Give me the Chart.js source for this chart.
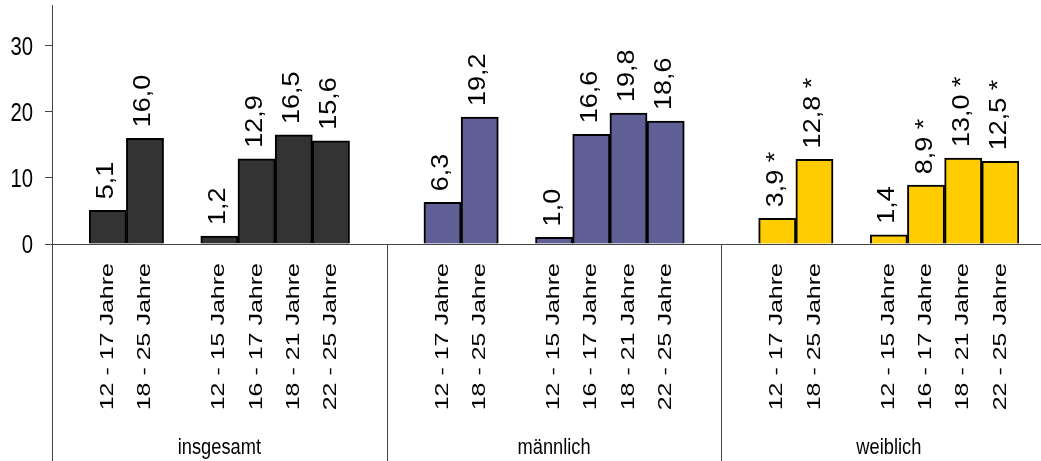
<!DOCTYPE html>
<html>
<head>
<meta charset="utf-8">
<script src="https://cdn.jsdelivr.net/npm/chart.js@4.4.1/dist/chart.umd.min.js"></script>
<style>
  html, body { margin: 0; padding: 0; background: #fff; }
  #wrap { width: 1041px; height: 461px; position: relative; }
</style>
</head>
<body>
<div id="wrap"><canvas id="chart"></canvas></div>
<script>
// data
const groupNames = ['insgesamt', 'männlich', 'weiblich'];
const ageLabels = ['12 - 17 Jahre', '18 - 25 Jahre', '', '12 - 15 Jahre', '16 - 17 Jahre', '18 - 21 Jahre', '22 - 25 Jahre'];
const insgesamt = [5.1, 16.0, null, 1.2, 12.9, 16.5, 15.6];
const maennlich = [6.3, 19.2, null, 1.0, 16.6, 19.8, 18.6];
const weiblich = [3.9, 12.8, null, 1.4, 8.9, 13.0, 12.5];
const weiblichStar = [true, true, false, false, true, true, true];
const groupColors = ['#333333', '#5f5f95', '#ffcc00'];
const yTicks = [0, 10, 20, 30];

// build slot list: one empty slot, then groups divided by two empty slots
const groupValues = [insgesamt, maennlich, weiblich];
const labels = [''], values = [null], colors = ['#fff'], stars = [false], groupOf = [-1];
groupValues.forEach((vals, g) => {
  if (g > 0) {
    for (let k = 0; k < 2; k++) { labels.push(''); values.push(null); colors.push('#fff'); stars.push(false); groupOf.push(-1); }
  }
  vals.forEach((v, i) => {
    labels.push(ageLabels[i]);
    values.push(v);
    colors.push(groupColors[g]);
    stars.push(g === 2 ? weiblichStar[i] : false);
    groupOf.push(g);
  });
});

const lineColor = '#444';
const textColor = '#000';

const decorations = {
  id: 'decorations',
  afterDraw(chart) {
    const ctx = chart.ctx;
    const xs = chart.scales.x, ys = chart.scales.y;
    const area = chart.chartArea;
    const y0 = ys.getPixelForValue(0);
    const H = chart.height, W = chart.width;
    ctx.save();
    ctx.strokeStyle = lineColor;
    ctx.lineWidth = 1;
    ctx.beginPath();
    // y axis line down to the bottom
    ctx.moveTo(Math.round(area.left) + 0.5, area.top - 1);
    ctx.lineTo(Math.round(area.left) + 0.5, H);
    // baseline
    ctx.moveTo(area.left - 7, Math.round(y0) + 0.5);
    ctx.lineTo(W, Math.round(y0) + 0.5);
    // separators between groups (middle of the two empty slots)
    for (let i = 2; i < labels.length; i++) {
      if (groupOf[i] === -1 && groupOf[i - 1] === -1) {
        const sx = Math.round((xs.getPixelForValue(i - 1) + xs.getPixelForValue(i)) / 2);
        ctx.moveTo(sx + 0.5, y0);
        ctx.lineTo(sx + 0.5, H);
      }
    }
    ctx.stroke();

    ctx.fillStyle = textColor;
    // y tick labels (condensed)
    ctx.font = '26px "Liberation Sans", Arial, sans-serif';
    ctx.textAlign = 'right';
    ctx.textBaseline = 'alphabetic';
    yTicks.forEach(v => {
      const ty = ys.getPixelForValue(v);
      ctx.save();
      ctx.translate(area.left - 19, ty + 9);
      ctx.scale(0.78, 1);
      ctx.fillText(String(v), 0, 0);
      ctx.restore();
    });

    // value labels
    ctx.font = '27px "Liberation Sans", Arial, sans-serif';
    values.forEach((v, i) => {
      if (v === null) return;
      const x = xs.getPixelForValue(i) - 1;
      const y = ys.getPixelForValue(v) - 11;
      const txt = v.toFixed(1).replace('.', ',') + (stars[i] ? ' *' : '');
      ctx.save();
      ctx.translate(x, y);
      ctx.rotate(-Math.PI / 2);
      ctx.scale(1, 0.87);
      ctx.textAlign = 'left';
      ctx.textBaseline = 'middle';
      ctx.fillText(txt, 0, 0);
      ctx.restore();
    });

    // category labels below the axis
    ctx.font = '25px "Liberation Sans", Arial, sans-serif';
    labels.forEach((t, i) => {
      if (!t || values[i] === null) return;
      const x = xs.getPixelForValue(i);
      ctx.save();
      ctx.translate(x, y0 + 19);
      ctx.rotate(-Math.PI / 2);
      ctx.scale(1, 0.74);
      ctx.textAlign = 'right';
      ctx.textBaseline = 'middle';
      ctx.fillText(t, 0, 0);
      ctx.restore();
    });

    // group names (condensed)
    ctx.font = '22px "Liberation Sans", Arial, sans-serif';
    ctx.textAlign = 'center';
    ctx.textBaseline = 'alphabetic';
    groupNames.forEach((name, g) => {
      const idx = [];
      groupOf.forEach((gg, i) => { if (gg === g) idx.push(i); });
      const cx = (xs.getPixelForValue(idx[0]) + xs.getPixelForValue(idx[idx.length - 1])) / 2;
      ctx.save();
      ctx.translate(cx, 454);
      ctx.scale(0.83, 1);
      ctx.fillText(name, 0, 0);
      ctx.restore();
    });
    ctx.restore();
  }
};

new Chart(document.getElementById('chart'), {
  type: 'bar',
  data: {
    labels: labels,
    datasets: [{
      data: values,
      backgroundColor: colors,
      borderColor: '#000',
      borderWidth: 2,
      barPercentage: 1,
      categoryPercentage: 1
    }]
  },
  options: {
    responsive: true,
    maintainAspectRatio: false,
    animation: false,
    layout: { padding: { top: 6, right: 22, left: 0, bottom: 0 } },
    plugins: {
      legend: { display: false },
      tooltip: { enabled: false }
    },
    scales: {
      x: {
        grid: { display: false },
        border: { display: false },
        ticks: { display: false },
        afterFit: s => { s.height = 217; }
      },
      y: {
        min: 0,
        max: 36,
        grid: { drawOnChartArea: false, tickLength: 7, color: lineColor },
        border: { display: false },
        ticks: { display: false },
        afterBuildTicks: s => { s.ticks = yTicks.map(v => ({ value: v })); },
        afterFit: s => { s.width = 52; }
      }
    }
  },
  plugins: [decorations]
});
</script>
</body>
</html>
